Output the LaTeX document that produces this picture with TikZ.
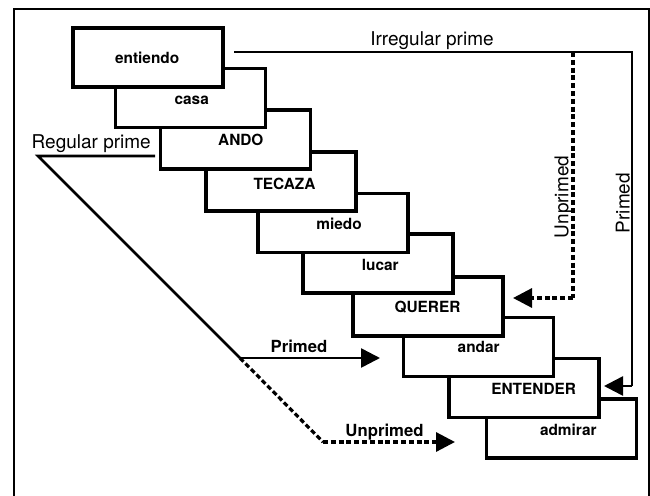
\documentclass[tikz,border=0pt]{standalone}
\usepackage{fontspec}
\setmainfont{TeX Gyre Heros}
\usetikzlibrary{arrows.meta}
\tikzset{
  box/.style={draw=black, fill=white, line width=3.3pt, minimum width=150pt, minimum height=59pt, inner sep=0pt, outer sep=0pt},
  boxlabel/.style={anchor=base, inner sep=0pt, font=\fontsize{15.4}{18}\selectfont\bfseries},
  arrlabel/.style={anchor=base, inner sep=0pt, font=\fontsize{16.7}{20}\selectfont\bfseries},
  branchlabel/.style={anchor=base, inner sep=0pt, font=\fontsize{19}{22}\selectfont},
  conn/.style={line width=2.6pt, line join=miter},
  dconn/.style={line width=3.2pt, dash pattern=on 5pt off 2.8pt, line join=miter},
  tip/.style={-{Triangle[length=19pt,width=19pt]}},
}
\begin{document}
\begin{tikzpicture}[x=1pt,y=-1pt]
\useasboundingbox (0,0) rectangle (650,495);
% outer frame (bottom edge outside the picture)
\draw[line width=2.6pt] (14,500) -- (14,9) -- (649,9) -- (649,500);

% boxes, back to front
\node[box] (b10) at (561.5,428.5) {};
\node[boxlabel] (l10) at (568.3,435) {admirar};
\node[box] (b9) at (524,388) {};
\node[boxlabel] (l9) at (533.7,394) {ENTENDER};
\node[box] (b8) at (478.5,347) {};
\node[boxlabel] (l8) at (478.7,352.3) {andar};
\node[box] (b7) at (428,306.5) {};
\node[boxlabel] (l7) at (427.5,312.7) {QUERER};
\node[box] (b6) at (378,263.5) {};
\node[boxlabel] (l6) at (380.3,270) {lucar};
\node[box] (b5) at (333,223) {};
\node[boxlabel] (l5) at (339,229.3) {miedo};
\node[box] (b4) at (281,181.5) {};
\node[boxlabel] (l4) at (284.5,189.3) {TECAZA};
\node[box] (b3) at (235.5,139.5) {};
\node[boxlabel] (l3) at (240.8,145) {ANDO};
\node[box] (b2) at (190.5,98) {};
\node[boxlabel] (l2) at (191.7,104) {casa};
\node[box] (b1) at (148,57.5) {};
\node[boxlabel] (l1) at (147.2,63.3) {entiendo};

% irregular prime branch
\coordinate (irA) at (234,52);
\coordinate (irB) at (573,52);
\coordinate (irC) at (632,52);
\coordinate (irD) at (632,386);
\coordinate (irE) at (604,386);
\coordinate (unA) at (573,298);
\coordinate (unB) at (513,298);
\draw[conn] (irA) -- (irC) -- (irD);
\draw[conn,tip] (irD) -- (irE);
\draw[dconn] (irB) -- (unA);
\draw[dconn,tip] (unA) -- (unB);
\node[branchlabel] (irl) at (432,46) {Irregular prime};
\node[branchlabel, rotate=90, anchor=base] (unl) at (568.3,197) {Unprimed};
\node[branchlabel, rotate=90, anchor=base] (prl) at (629.5,203) {Primed};

% regular prime branch
\coordinate (rA) at (155,156);
\coordinate (rB) at (38,156);
\coordinate (rC) at (240,358);
\coordinate (rP) at (380,358);
\coordinate (rD) at (323,442);
\coordinate (rU) at (455,442);
\draw[conn] (rA) -- (rB) -- (rC);
\draw[conn,tip] (rC) -- (rP);
\draw[dconn] (rC) -- (rD);
\draw[dconn,tip] (rD) -- (rU);
\node[branchlabel] (rl) at (91.2,148.3) {Regular prime};
\node[arrlabel] (pl) at (299,352) {Primed};
\node[arrlabel] (ul) at (384.5,436) {Unprimed};
\end{tikzpicture}
\end{document}
